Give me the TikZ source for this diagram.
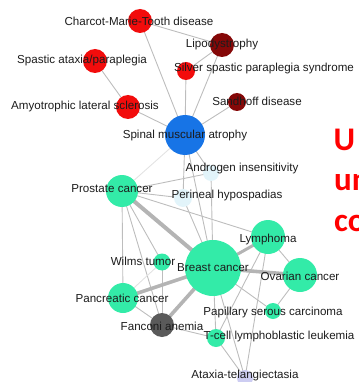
\documentclass[tikz,border=0pt]{standalone}
\usepackage{fontspec}
\setmainfont{Liberation Sans}
\newfontfamily\slidefont{Carlito}
\usetikzlibrary{backgrounds}
\definecolor{nred}{HTML}{F20C0C}
\definecolor{ndred}{HTML}{850808}
\definecolor{nblue}{HTML}{1774E6}
\definecolor{ngreen}{HTML}{33EBA8}
\definecolor{ngray}{HTML}{5A5A5A}
\definecolor{nlight}{HTML}{E2F4FA}
\definecolor{nlav}{HTML}{CDCDF2}
\definecolor{edgec}{HTML}{BDBDBD}
\definecolor{edgelt}{HTML}{E2E2E2}
\definecolor{txt}{HTML}{1C1C1C}
\definecolor{slidered}{HTML}{FF0000}
\tikzset{
  dot/.style={circle,inner sep=0pt,minimum size=#1,draw=none},
  lbl/.style={font=\fontsize{11.6}{13}\selectfont,text=txt,inner sep=0pt},
  edge/.style={draw=edgec,line width=0.9pt},
  thick edge/.style={draw=edgec!95!black,line width=3.6pt},
  light edge/.style={draw=edgelt,line width=0.9pt},
  bigred/.style={font=\slidefont\bfseries\fontsize{33}{40}\selectfont,text=slidered,inner sep=0pt,anchor=base west}
}
\begin{document}
\begin{tikzpicture}[x=1pt,y=-1pt]
\useasboundingbox (0,0) rectangle (358,382);
\begin{scope}
\clip (0,0) rectangle (358,382);
% nodes (circles)
\node[dot=24pt,fill=nred]   (cmt)    at (140,21)  {};
\node[dot=24pt,fill=ndred]  (lipo)   at (222,45)  {};
\node[dot=24pt,fill=nred]   (sap)    at (95,61)   {};
\node[dot=18pt,fill=nred]   (silver) at (186,71)  {};
\node[dot=24pt,fill=nred]   (als)    at (128,107) {};
\node[dot=18pt,fill=ndred]  (sand)   at (237,102) {};
\node[dot=40pt,fill=nblue]  (sma)    at (185,135) {};
\node[dot=16pt,fill=nlight] (andr)   at (211,173) {};
\node[dot=32pt,fill=ngreen] (pros)   at (122,191) {};
\node[dot=18pt,fill=nlight] (peri)   at (183,198) {};
\node[dot=34pt,fill=ngreen] (lymph)  at (268,237) {};
\node[dot=56pt,fill=ngreen] (breast) at (213,268) {};
\node[dot=17pt,fill=ngreen] (wilms)  at (162,262) {};
\node[dot=34pt,fill=ngreen] (ovar)   at (300,275) {};
\node[dot=30pt,fill=ngreen] (panc)   at (123,298) {};
\node[dot=24pt,fill=ngray]  (fanc)   at (162,325) {};
\node[dot=16pt,fill=ngreen] (pap)    at (273,311) {};
\node[dot=18pt,fill=ngreen] (tcell)  at (216,338) {};
\node[dot=16pt,fill=nlav]   (ataxia) at (245,378) {};
% edges
\begin{pgfonlayer}{background}
\draw[edge] (cmt.center) -- (sma.center);
\draw[edge] (cmt.center) -- (lipo.center);
\draw[edge] (sap.center) -- (als.center);
\draw[edge] (als.center) -- (sma.center);
\draw[edge] (silver.center) -- (sma.center);
\draw[edge] (silver.center) -- (lipo.center);
\draw[edge] (lipo.center) -- (sma.center);
\draw[edge] (sand.center) -- (sma.center);
\draw[edge] (sma.center) -- (andr.center);
\draw[edge] (sma.center) -- (peri.center);
\draw[edge] (sma.center) -- (breast.center);
\draw[light edge] (sma.center) -- (pros.center);
\draw[edge] (pros.center) -- (andr.center);
\draw[edge] (pros.center) -- (peri.center);
\draw[edge] (pros.center) -- (lymph.center);
\draw[edge] (pros.center) -- (panc.center);
\draw[edge] (pros.center) -- (fanc.center);
\draw[edge] (pros.center) -- (wilms.center);
\draw[edge] (andr.center) -- (breast.center);
\draw[edge] (peri.center) -- (breast.center);
\draw[edge] (breast.center) -- (pap.center);
\draw[edge] (breast.center) -- (tcell.center);
\draw[edge] (breast.center) -- (ataxia.center);
\draw[edge] (lymph.center) -- (ovar.center);
\draw[edge] (lymph.center) -- (tcell.center);
\draw[edge] (lymph.center) -- (ataxia.center);
\draw[edge] (ovar.center) -- (pap.center);
\draw[edge] (panc.center) -- (fanc.center);
\draw[light edge] (panc.center) -- (wilms.center);
\draw[edge] (wilms.center) -- (fanc.center);
\draw[edge] (tcell.center) -- (ataxia.center);
\draw[edge] (fanc.center) -- (tcell.center);
\draw[thick edge,line width=4pt] (pros.center) -- (breast.center);
\draw[thick edge,line width=3pt] (breast.center) -- (lymph.center);
\draw[thick edge] (breast.center) -- (ovar.center);
\draw[thick edge] (breast.center) -- (panc.center);
\draw[thick edge] (breast.center) -- (fanc.center);
\end{pgfonlayer}
% labels
\node[lbl] (lcmt)    at (139,21)  {Charcot-Marie-Tooth disease};
\node[lbl] (llipo)   at (222,45)  {Lipodystrophy};
\node[lbl] (lsap)    at (82,61)   {Spastic ataxia/paraplegia};
\node[lbl] (lsilver) at (264,69)  {Silver spastic paraplegia syndrome};
\node[lbl] (lals)    at (85,107)  {Amyotrophic lateral sclerosis};
\node[lbl] (lsand)   at (257,101) {Sandhoff disease};
\node[lbl] (lsma)    at (185,136) {Spinal muscular atrophy};
\node[lbl] (landr)   at (242,169) {Androgen insensitivity};
\node[lbl] (lpros)   at (112,189) {Prostate cancer};
\node[lbl] (lperi)   at (227,195) {Perineal hypospadias};
\node[lbl] (llymph)  at (268,239) {Lymphoma};
\node[lbl] (lbreast) at (213,268) {Breast cancer};
\node[lbl] (lwilms)  at (143,261) {Wilms tumor};
\node[lbl] (lovar)   at (300,276) {Ovarian cancer};
\node[lbl] (lpanc)   at (122,298) {Pancreatic cancer};
\node[lbl] (lfanc)   at (162,326) {Fanconi anemia};
\node[lbl] (lpap)    at (273,312) {Papillary serous carcinoma};
\node[lbl] (ltcell)  at (279,336) {T-cell lymphoblastic leukemia};
\node[lbl] (lataxia) at (245,375) {Ataxia-telangiectasia};
% cut-off slide text
\node[bigred] (s1) at (333.5,150) {U};
\node[bigred] (s2) at (334,190) {un};
\node[bigred] (s3) at (334,231) {co};
\end{scope}
\end{tikzpicture}
\end{document}
